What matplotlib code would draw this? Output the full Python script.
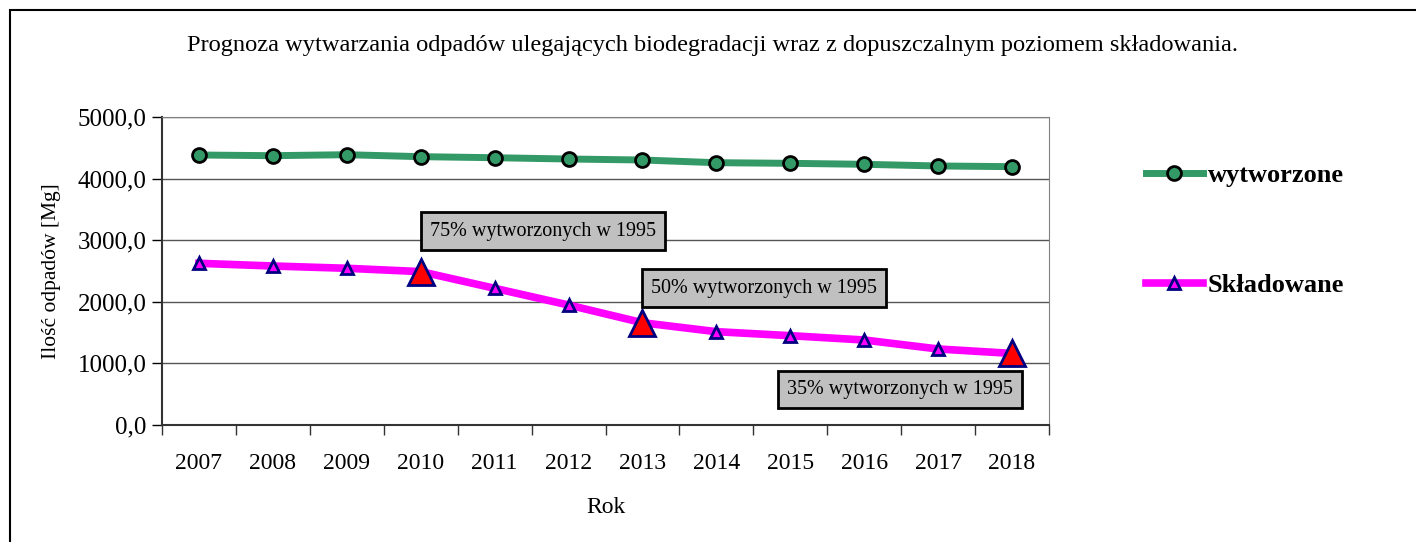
import matplotlib
matplotlib.use('Agg')
import matplotlib.pyplot as plt
from matplotlib.patches import Rectangle
from matplotlib.ticker import FuncFormatter, FixedLocator

plt.rcParams['font.family'] = ['Liberation Serif', 'DejaVu Serif']

years = ['2007', '2008', '2009', '2010', '2011', '2012',
         '2013', '2014', '2015', '2016', '2017', '2018']
wytworzone = [4383, 4372, 4388, 4356, 4339, 4318, 4302, 4258, 4248, 4232, 4205, 4194]
skladowane = [2625, 2581, 2544, 2490, 2219, 1948, 1660, 1515, 1450, 1380, 1234, 1162]
# progi: 75%, 50%, 35% z 1995
prog_idx = [3, 6, 11]
prog_labels = ['75% wytworzonych w 1995', '50% wytworzonych w 1995', '35% wytworzonych w 1995']

fig = plt.figure(figsize=(14.16, 5.42), dpi=100)
ax = fig.add_axes([162 / 1416, 1 - 425 / 542, 887 / 1416, 308 / 542])

x = list(range(len(years)))
ax.plot(x, wytworzone, color='#339966', lw=5, marker='o', ms=10,
        mfc='#339966', mec='black', mew=2, label='wytworzone', zorder=3)
ax.plot(x, skladowane, color='#FF00FF', lw=5.5, marker='^', ms=9,
        mfc='#FF00FF', mec='#000080', mew=2, label='Składowane', zorder=3)
ax.plot([x[i] for i in prog_idx], [skladowane[i] for i in prog_idx], ls='none',
        marker='^', ms=19, mfc='red', mec='#000080', mew=2, zorder=4)

ax.set_xlim(-0.5, len(years) - 0.5)
ax.set_ylim(0, 5000)
ax.set_yticks(range(0, 5001, 1000))
ax.yaxis.set_major_formatter(FuncFormatter(lambda v, p: f'{v:.1f}'.replace('.', ',')))
ax.grid(axis='y', color='#555555', lw=1)
ax.set_axisbelow(True)

ax.set_xticks(x)
ax.set_xticklabels(years)
ax.xaxis.set_minor_locator(FixedLocator([i - 0.5 for i in range(len(years) + 1)]))
ax.tick_params(axis='x', which='major', length=0, pad=20, labelsize=17)
ax.tick_params(axis='x', which='minor', length=7, width=1, color='#333333')
ax.tick_params(axis='y', length=7, width=1, labelsize=18, pad=4)

for s in ['top', 'right']:
    ax.spines[s].set_color('#808080')
for s in ['left', 'bottom']:
    ax.spines[s].set_color('#333333')
    ax.spines[s].set_linewidth(1.5)

ax.set_xlabel('Rok', fontsize=17, labelpad=17)
ax.set_ylabel('Ilość odpadów [Mg]', fontsize=15.5, labelpad=12)

box = dict(boxstyle='square,pad=0.45', fc='#C0C0C0', ec='black', lw=2)
offsets = [(4.65, 3149), (7.64, 2224), (9.49, 576)]
for (bx, by), lab in zip(offsets, prog_labels):
    ax.text(bx, by, lab, fontsize=14.5, ha='center', va='center', bbox=box, zorder=5)

fig.text(1 - 703 / 1416, 1 - 45 / 542, 'Prognoza wytwarzania odpadów ulegających biodegradacji wraz z dopuszczalnym poziomem składowania.',
         ha='center', va='center', fontsize=17.6)

fig.legend(loc='upper left', bbox_to_anchor=(1122 / 1416, 1 - 140 / 542), frameon=False,
           prop={'weight': 'bold', 'size': 19}, handlelength=2.16, handletextpad=0.2,
           labelspacing=3.27)

fig.add_artist(Rectangle((10 / 1416, -0.1), 1.2, 1 - 10 / 542 + 0.1, transform=fig.transFigure,
                         fill=False, ec='black', lw=1.5))

fig.savefig('out.png', dpi=100)
